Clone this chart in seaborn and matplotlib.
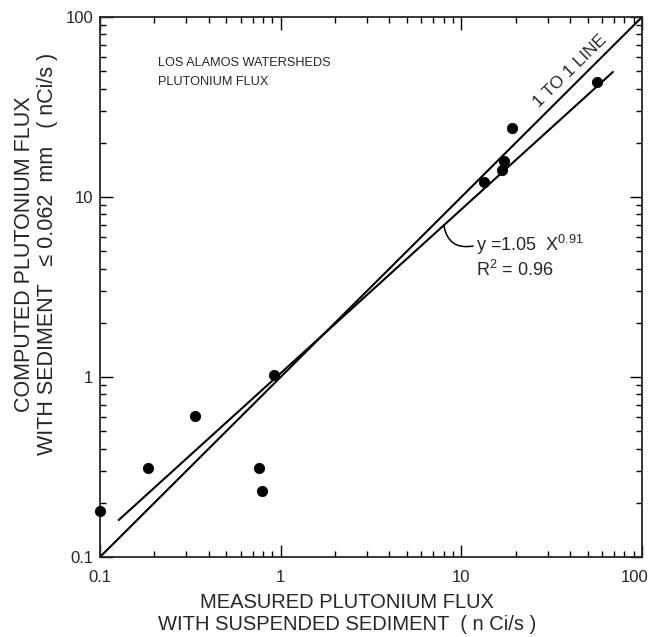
import numpy as np
import pandas as pd
import matplotlib
matplotlib.use("Agg")
import matplotlib.pyplot as plt
import matplotlib.transforms as mtransforms
from matplotlib.ticker import FixedLocator, FixedFormatter, LogLocator, NullFormatter
import seaborn as sns

# Measured vs computed plutonium flux (nCi/s)
measured = [0.10, 0.185, 0.334, 0.76, 0.79, 0.92, 13.3, 16.8, 17.2, 19.0, 56.5]
computed = [0.181, 0.311, 0.607, 0.313, 0.232, 1.03, 12.1, 14.1, 15.8, 24.1, 43.4]

# Power-law fit y = a * x^b and the x range it is drawn over
fit_a = 1.05
fit_b = 0.91
fit_r2 = 0.96
fit_x_range = [0.127, 69.0]

axis_limits = [0.1, 100]
major_ticks = [0.1, 1, 10, 100]
major_labels = ["0.1", "1", "10", "100"]

sns.set_style("ticks")
plt.rcParams["font.family"] = ["Liberation Sans", "DejaVu Sans"]
plt.rcParams["mathtext.fontset"] = "custom"
plt.rcParams["mathtext.rm"] = "Liberation Sans"
plt.rcParams["mathtext.it"] = "Liberation Sans"

fig = plt.figure(figsize=(6.52, 6.37), dpi=100)
ax = fig.add_axes([100 / 652, 1 - 557 / 637, 542 / 652, 540 / 637])
ax.set_xscale("log")
ax.set_yscale("log")
ax.set_xlim(axis_limits)
ax.set_ylim(axis_limits)

df = pd.DataFrame({"measured": measured, "computed": computed})

# 1:1 reference line across the full plotting range
one_to_one = pd.DataFrame({"x": axis_limits, "y": axis_limits})
sns.lineplot(data=one_to_one, x="x", y="y", ax=ax, color="black", lw=1.5)

# fitted power-law line
fx = np.geomspace(fit_x_range[0], fit_x_range[1], 50)
fit_df = pd.DataFrame({"x": fx, "y": fit_a * fx ** fit_b})
sns.lineplot(data=fit_df, x="x", y="y", ax=ax, color="black", lw=1.5)

sns.scatterplot(data=df, x="measured", y="computed", ax=ax, color="black",
                s=55, edgecolor="black", linewidth=0.6, zorder=5, clip_on=False)

# axes styling: inward ticks on all four sides
for sp in ax.spines.values():
    sp.set_linewidth(1.3)
    sp.set_visible(True)
for axis in (ax.xaxis, ax.yaxis):
    axis.set_major_locator(FixedLocator(major_ticks))
    axis.set_major_formatter(FixedFormatter(major_labels))
    axis.set_minor_locator(LogLocator(base=10, subs=np.arange(2, 10)))
    axis.set_minor_formatter(NullFormatter())
ax.tick_params(which="both", direction="in", top=True, right=True,
               width=1.0, color="black")
ax.tick_params(which="major", length=9, labelsize=12)
ax.tick_params(which="minor", length=4.5)
ax.tick_params(axis="x", which="major", pad=9)
ax.tick_params(axis="y", which="major", pad=5)
ax.set_xlabel("")
ax.set_ylabel("")

# keep the rightmost x tick label inside the figure
fig.canvas.draw()
last = ax.get_xticklabels()[-1]
last.set_transform(last.get_transform() +
                   mtransforms.ScaledTranslation(-7 / 100, 0, fig.dpi_scale_trans))

# axis titles
fig.text(347 / 652, 1 - 613 / 637,
         "MEASURED PLUTONIUM FLUX\nWITH SUSPENDED SEDIMENT  ( n Ci/s )",
         ha="center", va="center", fontsize=14.5, linespacing=1.2)
fig.text(36 / 652, 1 - 254 / 637,
         "COMPUTED PLUTONIUM FLUX\nWITH SEDIMENT   \u2264 0.062  mm   ( nCi/s )",
         ha="center", va="center", rotation=90, fontsize=15.5, linespacing=1.15)

# in-plot labels
ax.text(0.21, 60, "LOS ALAMOS WATERSHEDS\nPLUTONIUM FLUX",
        ha="left", va="top", fontsize=9.2, linespacing=1.75)
ax.text(40, 50, "1 TO 1 LINE", ha="center", va="center",
        rotation=44.5, fontsize=12.5)

ax.text(12.0, 5.0, r"y =1.05  X$^{0.91}$", ha="left", va="baseline", fontsize=13)
ax.text(12.0, 3.64, r"R$^{2}$ = 0.96", ha="left", va="baseline", fontsize=13)

x_leader = 8.0
ax.annotate("", xy=(x_leader, fit_a * x_leader ** fit_b), xytext=(11.6, 5.34),
            arrowprops=dict(arrowstyle="-", color="black", lw=1.1,
                            connectionstyle="arc3,rad=-0.5",
                            shrinkA=0, shrinkB=0))

fig.savefig("out.png", dpi=100)
